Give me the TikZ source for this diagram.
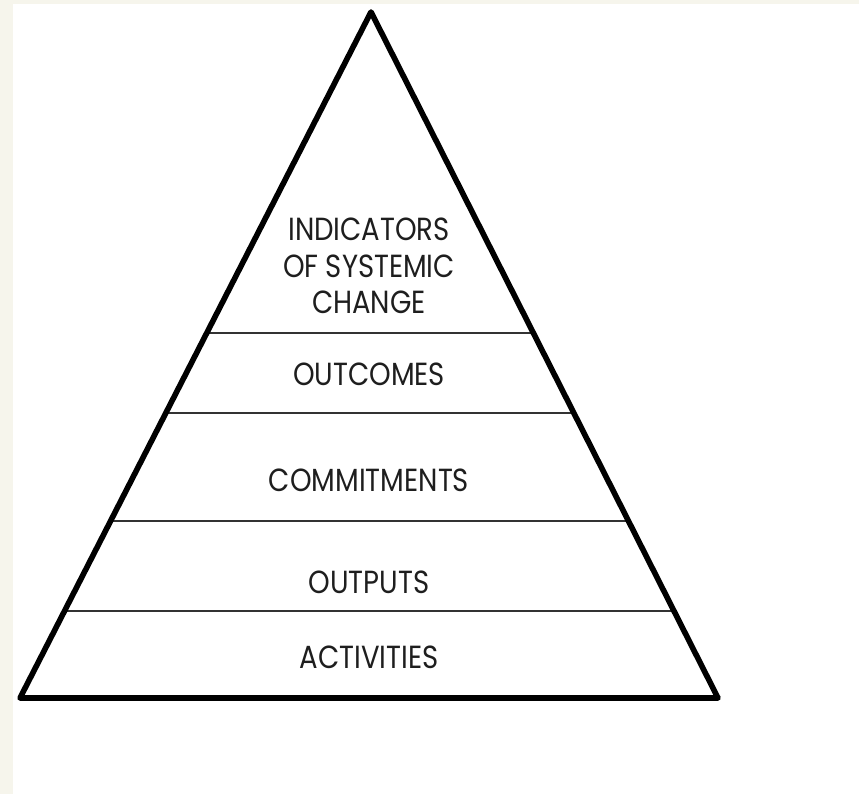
\documentclass[tikz,border=0pt]{standalone}
\usepackage{fontspec}
\usetikzlibrary{calc}
\newfontfamily\pyrfont[FakeStretch=0.86]{Poppins}
\definecolor{cream}{HTML}{F6F5EC}
\definecolor{inkc}{HTML}{1E1E1E}
\definecolor{rulec}{HTML}{333333}
\tikzset{
  side/.style={line width=4.2pt, line join=round, line cap=round, draw=black},
  divider/.style={line width=1.2pt, draw=rulec},
  lbl/.style={font=\pyrfont\fontsize{24}{27.5}\selectfont, text=inkc, align=center, inner sep=0pt}
}
\begin{document}
\begin{tikzpicture}[x=0.75pt,y=-0.75pt]
\fill[cream] (0,0) rectangle (859,794);
\fill[white] (13,4) rectangle (859,794);
\useasboundingbox (0,0) rectangle (859,794);
\coordinate (apex) at (371,12);
\coordinate (bl) at (20,698);
\coordinate (br) at (718,698);
% dividers
\foreach \n/\t in {a/0.4679,b/0.5845,c/0.7420,d/0.8732}{
  \coordinate (l\n) at ($(apex)!\t!(bl)$);
  \coordinate (r\n) at ($(apex)!\t!(br)$);
  \draw[divider] (l\n) -- (r\n);
}
\draw[side] (apex) -- (bl) -- (br) -- cycle;
\node[lbl] (ind) at (369,266) {INDICATORS\\OF SYSTEMIC\\CHANGE};
\node[lbl] (outc) at (369,374) {OUTCOMES};
\node[lbl] (comm) at (369,480) {COMMITMENTS};
\node[lbl] (outp) at (369,582) {OUTPUTS};
\node[lbl] (act) at (369,657) {ACTIVITIES};
\end{tikzpicture}
\end{document}
